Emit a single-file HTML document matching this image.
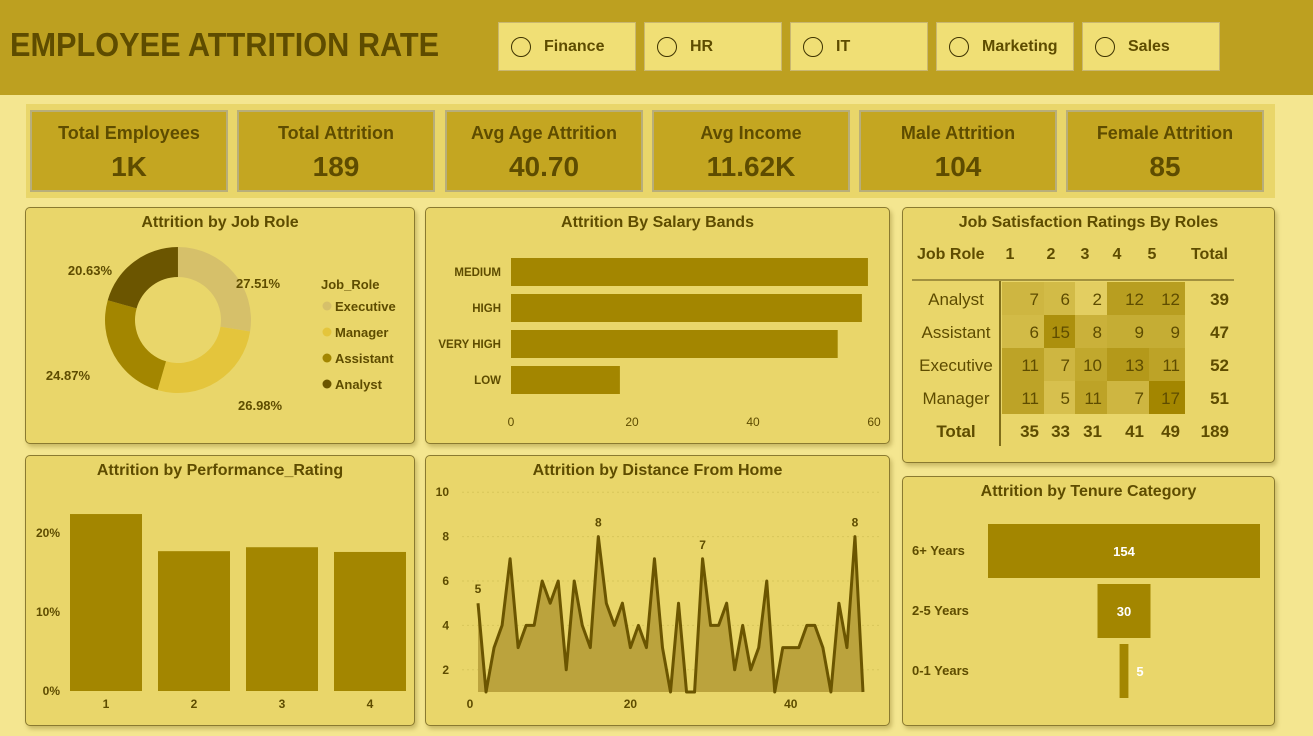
<!DOCTYPE html>
<html><head><meta charset="utf-8">
<style>
*{box-sizing:border-box;margin:0;padding:0}
body{width:1313px;height:736px;background:#F4E690;font-family:"Liberation Sans",sans-serif;position:relative;overflow:hidden;color:#5E4C00}
.abs{position:absolute}
#header{left:0;top:0;width:1313px;height:95px;background:#BDA020}
#title{left:10px;top:26px;font-size:33px;font-weight:bold;color:#5E4C00;transform:scaleX(0.93);transform-origin:left center;white-space:nowrap}
.slicer{top:22px;width:138px;height:49px;background:#F0DF75;border:1px solid #C9B770;font-size:16px;font-weight:bold;display:flex;align-items:center;padding-left:12px}
.slicer .c{width:20px;height:20px;border:1.5px solid #3E3300;border-radius:50%;margin-right:13px}
#kpis{left:26px;top:104px;width:1249px;height:94px;background:#E9D66A}
.kpi{top:110px;width:198px;height:82px;background:#C4A621;border:2px solid #B8AE7A;text-align:center}
.kpi .l{font-size:18px;font-weight:bold;margin-top:11px}
.kpi .v{font-size:28px;font-weight:bold;margin-top:7px}
.card{background:#E9D66A;border:1px solid #8A7A30;border-radius:5px;box-shadow:2px 3px 4px rgba(120,100,20,0.35)}
.ct{position:absolute;left:0;width:100%;text-align:center;top:6px;font-size:16px;font-weight:bold}
svg text{font-family:"Liberation Sans",sans-serif}
</style></head><body>
<div class="abs" id="header"></div>
<div class="abs" id="title">EMPLOYEE ATTRITION RATE</div>
<div class="abs slicer" style="left:498px"><span class="c"></span>Finance</div>
<div class="abs slicer" style="left:644px"><span class="c"></span>HR</div>
<div class="abs slicer" style="left:790px"><span class="c"></span>IT</div>
<div class="abs slicer" style="left:936px"><span class="c"></span>Marketing</div>
<div class="abs slicer" style="left:1082px"><span class="c"></span>Sales</div>

<div class="abs" id="kpis"></div>
<div class="abs kpi" style="left:30px"><div class="l">Total Employees</div><div class="v">1K</div></div>
<div class="abs kpi" style="left:237px"><div class="l">Total Attrition</div><div class="v">189</div></div>
<div class="abs kpi" style="left:445px"><div class="l">Avg Age Attrition</div><div class="v">40.70</div></div>
<div class="abs kpi" style="left:652px"><div class="l">Avg Income</div><div class="v">11.62K</div></div>
<div class="abs kpi" style="left:859px"><div class="l">Male Attrition</div><div class="v">104</div></div>
<div class="abs kpi" style="left:1066px"><div class="l">Female Attrition</div><div class="v">85</div></div>

<div class="abs card" style="left:25px;top:207px;width:390px;height:237px"><div class="ct">Attrition by Job Role</div></div>
<div class="abs card" style="left:425px;top:207px;width:465px;height:237px"><div class="ct">Attrition By Salary Bands</div></div>
<div class="abs card" style="left:902px;top:207px;width:373px;height:256px"><div class="ct">Job Satisfaction Ratings By Roles</div></div>
<div class="abs card" style="left:25px;top:455px;width:390px;height:271px"><div class="ct">Attrition by Performance_Rating</div></div>
<div class="abs card" style="left:425px;top:455px;width:465px;height:271px"><div class="ct">Attrition by Distance From Home</div></div>
<div class="abs card" style="left:902px;top:476px;width:373px;height:250px"><div class="ct">Attrition by Tenure Category</div></div>

<svg class="abs" id="charts" style="left:0;top:0" width="1313" height="736"></svg>

<script>
const roles=["Executive","Manager","Assistant","Analyst"];
const rolePct=[27.51,26.98,24.87,20.63];
const roleColors=["#D6C06A","#E4C53C","#A38600","#6B5500"];
const salaryBands=["MEDIUM","HIGH","VERY HIGH","LOW"];
const salaryVals=[59,58,54,18];
const salaryTicks=[0,20,40,60];
const perfCats=["1","2","3","4"];
const perfVals=[22.4,17.7,18.2,17.6];
const perfTicks=[0,10,20];
const distVals=[5,1,3,4,7,3,4,4,6,5,6,2,6,4,3,8,5,4,5,3,4,3,7,3,1,5,1,1,7,4,4,5,2,4,2,3,6,1,3,3,3,4,4,3,1,5,3,8,1];
const distXTicks=[0,20,40];
const distYTicks=[2,4,6,8,10];
const hmRoles=["Analyst","Assistant","Executive","Manager"];
const hmCols=["1","2","3","4","5"];
const hmVals=[[7,6,2,12,12],[6,15,8,9,9],[11,7,10,13,11],[11,5,11,7,17]];
const tenureCats=["6+ Years","2-5 Years","0-1 Years"];
const tenureVals=[154,30,5];

const NS="http://www.w3.org/2000/svg";
const svg=document.getElementById('charts');
function mk(tag,attrs,parent,text){const e=document.createElementNS(NS,tag);for(const k in attrs)e.setAttribute(k,attrs[k]);if(text!==undefined)e.textContent=text;(parent||svg).appendChild(e);return e;}
const DK="#5E4C00";

// Donut
(function(){
 const cx=178,cy=320,R=73,r=43;let a=0;
 const lbl=[[236,288,"start"],[238,410,"start"],[90,380,"end"],[112,275,"end"]];
 rolePct.forEach((p,i)=>{
  const a0=a/100*2*Math.PI,a1=(a+p)/100*2*Math.PI;a+=p;
  const pt=(rr,t)=>[cx+rr*Math.sin(t),cy-rr*Math.cos(t)];
  const [x0,y0]=pt(R,a0),[x1,y1]=pt(R,a1),[x2,y2]=pt(r,a1),[x3,y3]=pt(r,a0);
  const lg=(a1-a0)>Math.PI?1:0;
  const s=mk('path',{d:`M${x0},${y0}A${R},${R} 0 ${lg} 1 ${x1},${y1}L${x2},${y2}A${r},${r} 0 ${lg} 0 ${x3},${y3}Z`,fill:roleColors[i]});
  
  
  const t=mk('text',{x:lbl[i][0],y:lbl[i][1],'text-anchor':lbl[i][2],'font-size':13,'font-weight':'bold',fill:DK},svg,p.toFixed(2)+"%");
  
  
  const lt=mk('text',{x:335,y:311+i*26,'font-size':13,'font-weight':'bold',fill:DK},svg,roles[i]);
  
  
  mk('circle',{cx:327,cy:306+i*26,r:4.5,fill:roleColors[i]});
 });
 const lh=mk('text',{x:321,y:289,'font-size':13,'font-weight':'bold',fill:DK},svg,"Job_Role");
 
 
})();

// Salary bars
(function(){
 const x=v=>511+v*6.05, y=i=>272+i*36;
 salaryTicks.forEach(t=>{mk('text',{x:x(t),y:426,'text-anchor':'middle','font-size':12,fill:DK},svg,t);});
 salaryBands.forEach((b,i)=>{
  const r=mk('rect',{x:x(0),y:y(i)-14,width:x(salaryVals[i])-x(0),height:28,fill:"#A38600"});
  
  
  mk('text',{x:501,y:y(i)+4,'text-anchor':'end','font-size':11.5,'font-weight':'bold',fill:DK},svg,b);
 });
})();

// Heatmap
(function(){
 const colX=[1010,1051,1085,1117,1152],cellX=[1002,1044,1075,1107,1149,1185],rowY=i=>282+i*33;
 mk('text',{x:917,y:259,'font-size':16,'font-weight':'bold',fill:DK},svg,"Job Role");
 hmCols.forEach((c,j)=>mk('text',{x:colX[j],y:259,'text-anchor':'middle','font-size':16,'font-weight':'bold',fill:DK},svg,c));
 mk('text',{x:1228,y:259,'text-anchor':'end','font-size':16,'font-weight':'bold',fill:DK},svg,"Total");
 mk('line',{x1:912,y1:280,x2:1234,y2:280,stroke:"#8A7A30","stroke-width":1.5});
 mk('line',{x1:1000,y1:281,x2:1000,y2:446,stroke:"#5E4C00","stroke-width":1.5});
 const max=17;
 hmVals.forEach((row,i)=>{
  mk('text',{x:956,y:rowY(i)+23,'text-anchor':'middle','font-size':17,fill:DK},svg,hmRoles[i]);
  let tot=0;
  row.forEach((v,j)=>{
   tot+=v;
   const f=v/max;
   const c=`rgb(${Math.round(236-f*73)},${Math.round(216-f*82)},${Math.round(110-f*110)})`;
   const r=mk('rect',{x:cellX[j],y:rowY(i),width:cellX[j+1]-cellX[j],height:33,fill:c});
   
   
   mk('text',{x:cellX[j+1]-5,y:rowY(i)+23,'text-anchor':'end','font-size':17,fill:DK},svg,v);
  });
  mk('text',{x:1229,y:rowY(i)+23,'text-anchor':'end','font-size':17,'font-weight':'bold',fill:DK},svg,tot);
 });
 mk('text',{x:956,y:437,'text-anchor':'middle','font-size':17,'font-weight':'bold',fill:DK},svg,"Total");
 let g=0;
 hmCols.forEach((c,j)=>{let s=0;hmVals.forEach(r=>s+=r[j]);g+=s;
  mk('text',{x:cellX[j+1]-5,y:437,'text-anchor':'end','font-size':17,'font-weight':'bold',fill:DK},svg,s);});
 mk('text',{x:1229,y:437,'text-anchor':'end','font-size':17,'font-weight':'bold',fill:DK},svg,g);
})();

// Performance
(function(){
 const y=v=>691-v*7.9, x=i=>106+i*88;
 perfTicks.forEach(t=>mk('text',{x:60,y:y(t)+4,'text-anchor':'end','font-size':12,'font-weight':'bold',fill:DK},svg,t+"%"));
 perfCats.forEach((c,i)=>{
  const r=mk('rect',{x:x(i)-36,y:y(perfVals[i]),width:72,height:y(0)-y(perfVals[i]),fill:"#A38600"});
  
  
  mk('text',{x:x(i),y:708,'text-anchor':'middle','font-size':12,'font-weight':'bold',fill:DK},svg,c);
 });
})();

// Distance
(function(){
 const x=v=>470+v*8.02, y=v=>692-(v-1)*22.2;
 distYTicks.forEach(t=>{mk('line',{x1:462,y1:y(t),x2:880,y2:y(t),stroke:"#D8C65A","stroke-dasharray":"2,3"});
  mk('text',{x:449,y:y(t)+4,'text-anchor':'end','font-size':12,'font-weight':'bold',fill:DK},svg,t);});
 distXTicks.forEach(t=>mk('text',{x:x(t),y:708,'text-anchor':'middle','font-size':12,'font-weight':'bold',fill:DK},svg,t));
 let pts=distVals.map((v,i)=>x(i+1)+","+y(v)).join(" ");
 const area=mk('polygon',{points:x(1)+","+y(1)+" "+pts+" "+x(distVals.length)+","+y(1),fill:"#BBA33D"});
 
 
 const ln=mk('polyline',{points:pts,fill:"none",stroke:"#6B5500","stroke-width":3,"stroke-linejoin":"round"});
 
 
 [0,15,28,47].forEach(i=>mk('text',{x:x(i+1),y:y(distVals[i])-10,'text-anchor':'middle','font-size':12,'font-weight':'bold',fill:DK},svg,distVals[i]));
})();

// Tenure funnel
(function(){
 const cx=1124, s=272/154, y=i=>551+i*60;
 tenureCats.forEach((c,i)=>{
  const w=tenureVals[i]*s;
  const r=mk('rect',{x:cx-w/2,y:y(i)-27,width:w,height:54,fill:"#A38600"});
  
  
  mk('text',{x:912,y:y(i)+4,'font-size':13,'font-weight':'bold',fill:DK},svg,c);
  mk('text',{x:i==2?cx+16:cx,y:y(i)+5,'text-anchor':'middle','font-size':13,'font-weight':'bold',fill:"#fff"},svg,tenureVals[i]);
 });
})();
</script>
</body></html>
